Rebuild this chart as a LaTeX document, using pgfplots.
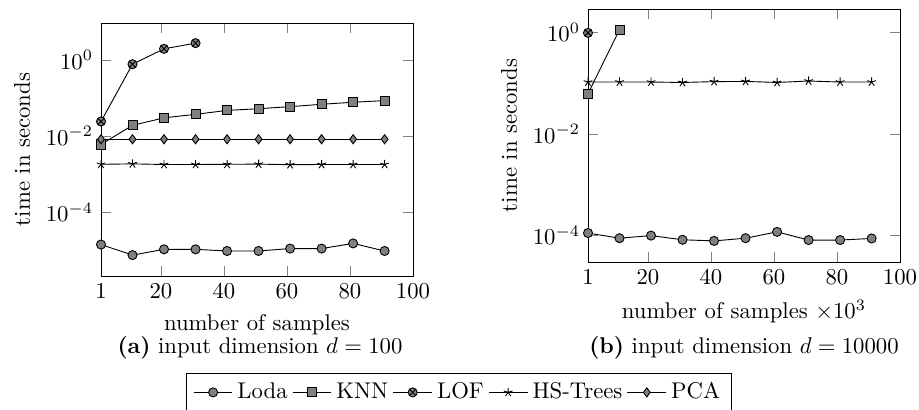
\documentclass[border=0pt]{standalone}
\usepackage{pgfplots}
\pgfplotsset{compat=1.18}

\pgfplotsset{
  every axis plot/.append style={black, thin, mark options={fill=gray, solid}},
}

\begin{document}
\begin{tikzpicture}
\useasboundingbox (0pt,0pt) rectangle (404.36pt,179.96pt);

% (a) d = 100
\begin{axis}[ymode=log, scale only axis, width=137.28pt, height=111.32pt,
  at={(44.44pt,58.52pt)}, anchor=south west,
  xmin=1, xmax=100, xtick={1,20,40,60,80,100},
  ymin=2.09e-6, ymax=9.3, ytick={1e-4,1e-2,1e0},
  ylabel={time in seconds},
  xlabel={number of samples},
  legend columns=-1,
  legend style={at={(1.1474,-0.3834)}, anchor=north, draw=black, fill=white},
]
\addplot[mark=*] coordinates {(1,1.4e-5) (11,7.4e-6) (21,1.05e-5) (31,1.05e-5) (41,9.5e-6) (51,9.5e-6) (61,1.1e-5) (71,1.1e-5) (81,1.5e-5) (91,9.5e-6)};
\addplot[mark=square*] coordinates {(1,6.0e-3) (11,0.019) (21,0.030) (31,0.037) (41,0.047) (51,0.052) (61,0.059) (71,0.068) (81,0.077) (91,0.085)};
\addplot[mark=otimes*] coordinates {(1,0.024) (11,0.77) (21,1.95) (31,2.75)};
\addplot[mark=star] coordinates {(1,1.8e-3) (11,1.85e-3) (21,1.78e-3) (31,1.78e-3) (41,1.8e-3) (51,1.82e-3) (61,1.76e-3) (71,1.78e-3) (81,1.78e-3) (91,1.78e-3)};
\addplot[mark=diamond*] coordinates {(1,8.2e-3) (11,8.2e-3) (21,8.2e-3) (31,8.2e-3) (41,8.2e-3) (51,8.2e-3) (61,8.2e-3) (71,8.2e-3) (81,8.2e-3) (91,8.2e-3)};
\legend{Loda, KNN, LOF, HS-Trees, PCA}
\end{axis}

% (b) d = 10000
\begin{axis}[ymode=log, scale only axis, width=137.28pt, height=111.32pt,
  at={(258.72pt,64.68pt)}, anchor=south west,
  xmin=1, xmax=100, xtick={1,20,40,60,80,100},
  ymin=2.95e-5, ymax=2.9, ytick={1e-4,1e-2,1e0},
  ylabel={time in seconds},
  xlabel={number of samples $\times 10^3$},
]
\addplot[mark=*] coordinates {(1,1.1e-4) (11,8.7e-5) (21,9.8e-5) (31,8.1e-5) (41,7.7e-5) (51,8.7e-5) (61,1.16e-4) (71,8.0e-5) (81,8.0e-5) (91,8.6e-5)};
\addplot[mark=square*] coordinates {(1,0.062) (11,1.13)};
\addplot[mark=otimes*] coordinates {(1,0.98)};
\addplot[mark=star] coordinates {(1,0.105) (11,0.105) (21,0.105) (31,0.103) (41,0.107) (51,0.108) (61,0.103) (71,0.11) (81,0.105) (91,0.105)};
\end{axis}

\node[anchor=base] at (114.4pt,24.64pt) {\textbf{(a)} input dimension $d=100$};
\node[anchor=base] at (327.36pt,24.64pt) {\textbf{(b)} input dimension $d=10000$};
\end{tikzpicture}
\end{document}
